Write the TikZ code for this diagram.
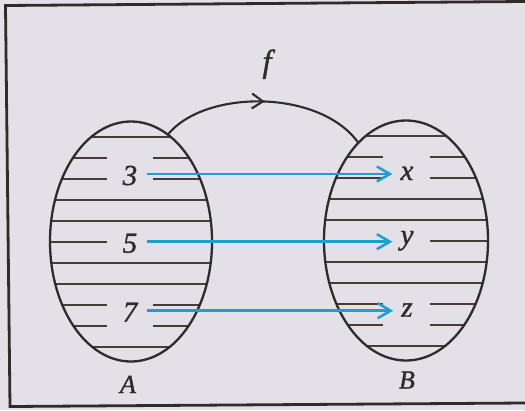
\documentclass[tikz,border=0pt]{standalone}
\usepackage{fontspec}
\setmainfont{Liberation Serif}[ItalicFont={Liberation Serif Italic}]
\newfontfamily\lblfont{Liberation Serif Italic}[FakeBold=1.2]
\usetikzlibrary{arrows.meta,shapes.geometric,decorations.markings}
\definecolor{bgcol}{RGB}{228,224,232}
\definecolor{inkcol}{RGB}{48,42,42}
\definecolor{hatchcol}{RGB}{72,60,52}
\definecolor{bluecol}{RGB}{30,158,208}
\begin{document}
\begin{tikzpicture}[x=1pt,y=-1pt,
  setshape/.style={ellipse, draw=inkcol, line width=2.3pt, minimum width=162pt, minimum height=240pt, inner sep=0pt, outer sep=0pt},
  hatch/.style={draw=hatchcol, line width=2pt},
  numlbl/.style={font=\lblfont\fontsize{29}{31}\selectfont, text=inkcol, anchor=base, text height=22pt, text depth=0pt, inner xsep=10pt, inner ysep=0pt},
  letlbl/.style={font=\lblfont\fontsize{29}{31}\selectfont, text=inkcol, anchor=base, inner xsep=8pt, inner ysep=0pt},
  setlbl/.style={font=\lblfont\fontsize{26}{28}\selectfont, text=inkcol, anchor=base, inner sep=0pt},
  maparrow/.style={draw=bluecol, line width=2.5pt, -{Straight Barb[length=13pt,width=15pt,line width=2.5pt]}},
  arcline/.style={draw=inkcol, line width=2.1pt, postaction={decorate},
    decoration={markings, mark=at position 0.5 with {\arrow{Straight Barb[length=11pt,width=15pt,line width=2.1pt]}}}},
  framebox/.style={draw=inkcol, line width=2.8pt}
]
\useasboundingbox (0,0) rectangle (525,410);
\fill[bgcol] (0,0) rectangle (525,410);
\draw[framebox] (525,1.5) -- (5.5,5.5) -- (10,406.5) -- (525,403);

% hatching of set A
\begin{scope}
  \clip (131,241.5) ellipse [x radius=81pt, y radius=120pt];
  \foreach \yy in {137,200,221,263,284,347}
    \draw[hatch] (40,\yy) -- (220,\yy);
  \foreach \yy in {158,179,305,326} {
    \draw[hatch] (40,\yy) -- (107,\yy);
    \draw[hatch] (153,\yy) -- (220,\yy);
  }
  \draw[hatch] (40,242) -- (107,242);
\end{scope}
% hatching of set B
\begin{scope}
  \clip (406,240.5) ellipse [x radius=82pt, y radius=120pt];
  \foreach \yy in {136,199,220,262,283,346}
    \draw[hatch] (315,\yy) -- (500,\yy);
  \foreach \yy in {157,178,304,325} {
    \draw[hatch] (315,\yy) -- (383,\yy);
    \draw[hatch] (430,\yy) -- (500,\yy);
  }
  \draw[hatch] (430,241) -- (500,241);
\end{scope}

\node[setshape] (eA) at (131,241.5) {};
\node[setshape, minimum width=164pt] (eB) at (406,240.5) {};

\draw[arcline] (eA.71) .. controls (205,89) and (320,89) .. (eB.116);
\node[font=\lblfont\fontsize{32}{34}\selectfont, text=inkcol, anchor=base, inner sep=0pt] (fl) at (267,72) {f};

\node[numlbl] (n3) at (130,185) {3};
\node[numlbl] (n5) at (130,252.7) {5};
\node[numlbl] (n7) at (130,321.7) {7};
\node[letlbl] (nx) at (407,180) {x};
\node[letlbl] (ny) at (407,244.3) {y};
\node[letlbl] (nz) at (407,316.7) {z};

\draw[maparrow] (n3.east) -- (n3.east -| nx.west);
\draw[maparrow] (n5.east) -- (n5.east -| ny.west);
\draw[maparrow] (n7.east) -- (n7.east -| nz.west);

\node[setlbl] (la) at (128,393) {A};
\node[setlbl] (lb) at (407,388.5) {B};
\end{tikzpicture}
\end{document}
